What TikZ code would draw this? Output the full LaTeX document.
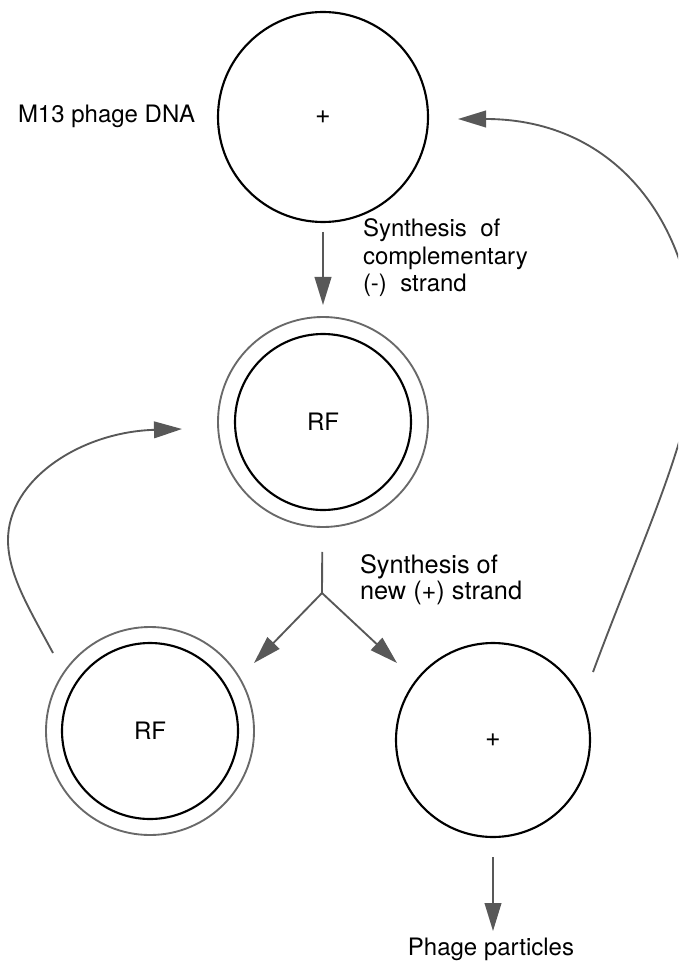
\documentclass[tikz,border=0pt]{standalone}
\usepackage{fontspec}
\setmainfont{TeX Gyre Heros}
\usetikzlibrary{arrows.meta}
\definecolor{linkgray}{RGB}{88,88,88}
\definecolor{ringgray}{RGB}{105,105,105}
\begin{document}
\begin{tikzpicture}[x=0.75pt,y=-0.75pt,
  txt/.style={inner sep=0pt, outer sep=0pt, align=left, font=\fontsize{18}{20.6}\selectfont},
  strand/.style={circle, draw=black, line width=1.6pt, inner sep=0pt, outer sep=0pt,
    font=\fontsize{18}{20.6}\selectfont},
  sign/.style={font=\fontsize{20}{22}\selectfont},
  ring/.style={circle, draw=ringgray, line width=1.4pt, inner sep=0pt, outer sep=0pt},
  link/.style={draw=linkgray, line width=1.4pt},
  flow/.style={link, -{Triangle[length=21pt,width=12.5pt]}}
]
\useasboundingbox (0,0) rectangle (678,962);
\clip (0,0) rectangle (678,962);

% single-stranded phage genome
\node[strand, sign, minimum size=157.5pt] (plusA) at (323,117) {+};
\node[txt, anchor=base west] (m13) at (18,123) {M13 phage DNA};

% replicative form after complementary strand synthesis
\node[ring, minimum size=157.5pt] (rfA) at (323,422) {};
\node[strand, minimum size=132pt] (rfAin) at (323,422) {RF};
\node[txt, anchor=north west] (synA) at (363,219)
  {Synthesis\ \ of\\complementary\\(-)\ \ strand};

% products of new (+) strand synthesis
\node[ring, minimum size=156pt] (rfB) at (150,731) {};
\node[strand, minimum size=132pt] (rfBin) at (150,731) {RF};
\node[strand, sign, minimum size=145.5pt] (plusB) at (493,740) {+};
\node[txt, anchor=north west, font=\fontsize{19}{19.5}\selectfont] (synB) at (360,555)
  {Synthesis of\\new (+) strand};
\node[txt, anchor=base] (phage) at (491,955) {Phage particles};

% connectors
\coordinate (fork) at (322,593);
\coordinate (tipL) at (254,663);
\coordinate (tipR) at (397,663);
\coordinate (tipP) at (493,931);
\coordinate (loopLstart) at (53,653);
\coordinate (loopLend) at (182,429);
\coordinate (loopRstart) at (593,672);
\coordinate (loopRend) at (458,119);

\draw[flow, shorten <=7.5pt, shorten >=9pt] (plusA) -- (rfA);
\draw[link, shorten <=18.75pt] (rfA) -- (fork);
\draw[flow] (fork) -- (tipL);
\draw[flow] (fork) -- (tipR);
\draw[flow, shorten <=15pt] (plusB) -- (tipP);

\draw[flow] (loopLstart) .. controls (30,610) and (8,575) .. (8,540)
  .. controls (8,480) and (80,432) .. (loopLend);
\draw[flow] (loopRstart) .. controls (640,545) and (695,430) .. (695,355)
  .. controls (695,230) and (620,119) .. (loopRend);
\end{tikzpicture}
\end{document}
